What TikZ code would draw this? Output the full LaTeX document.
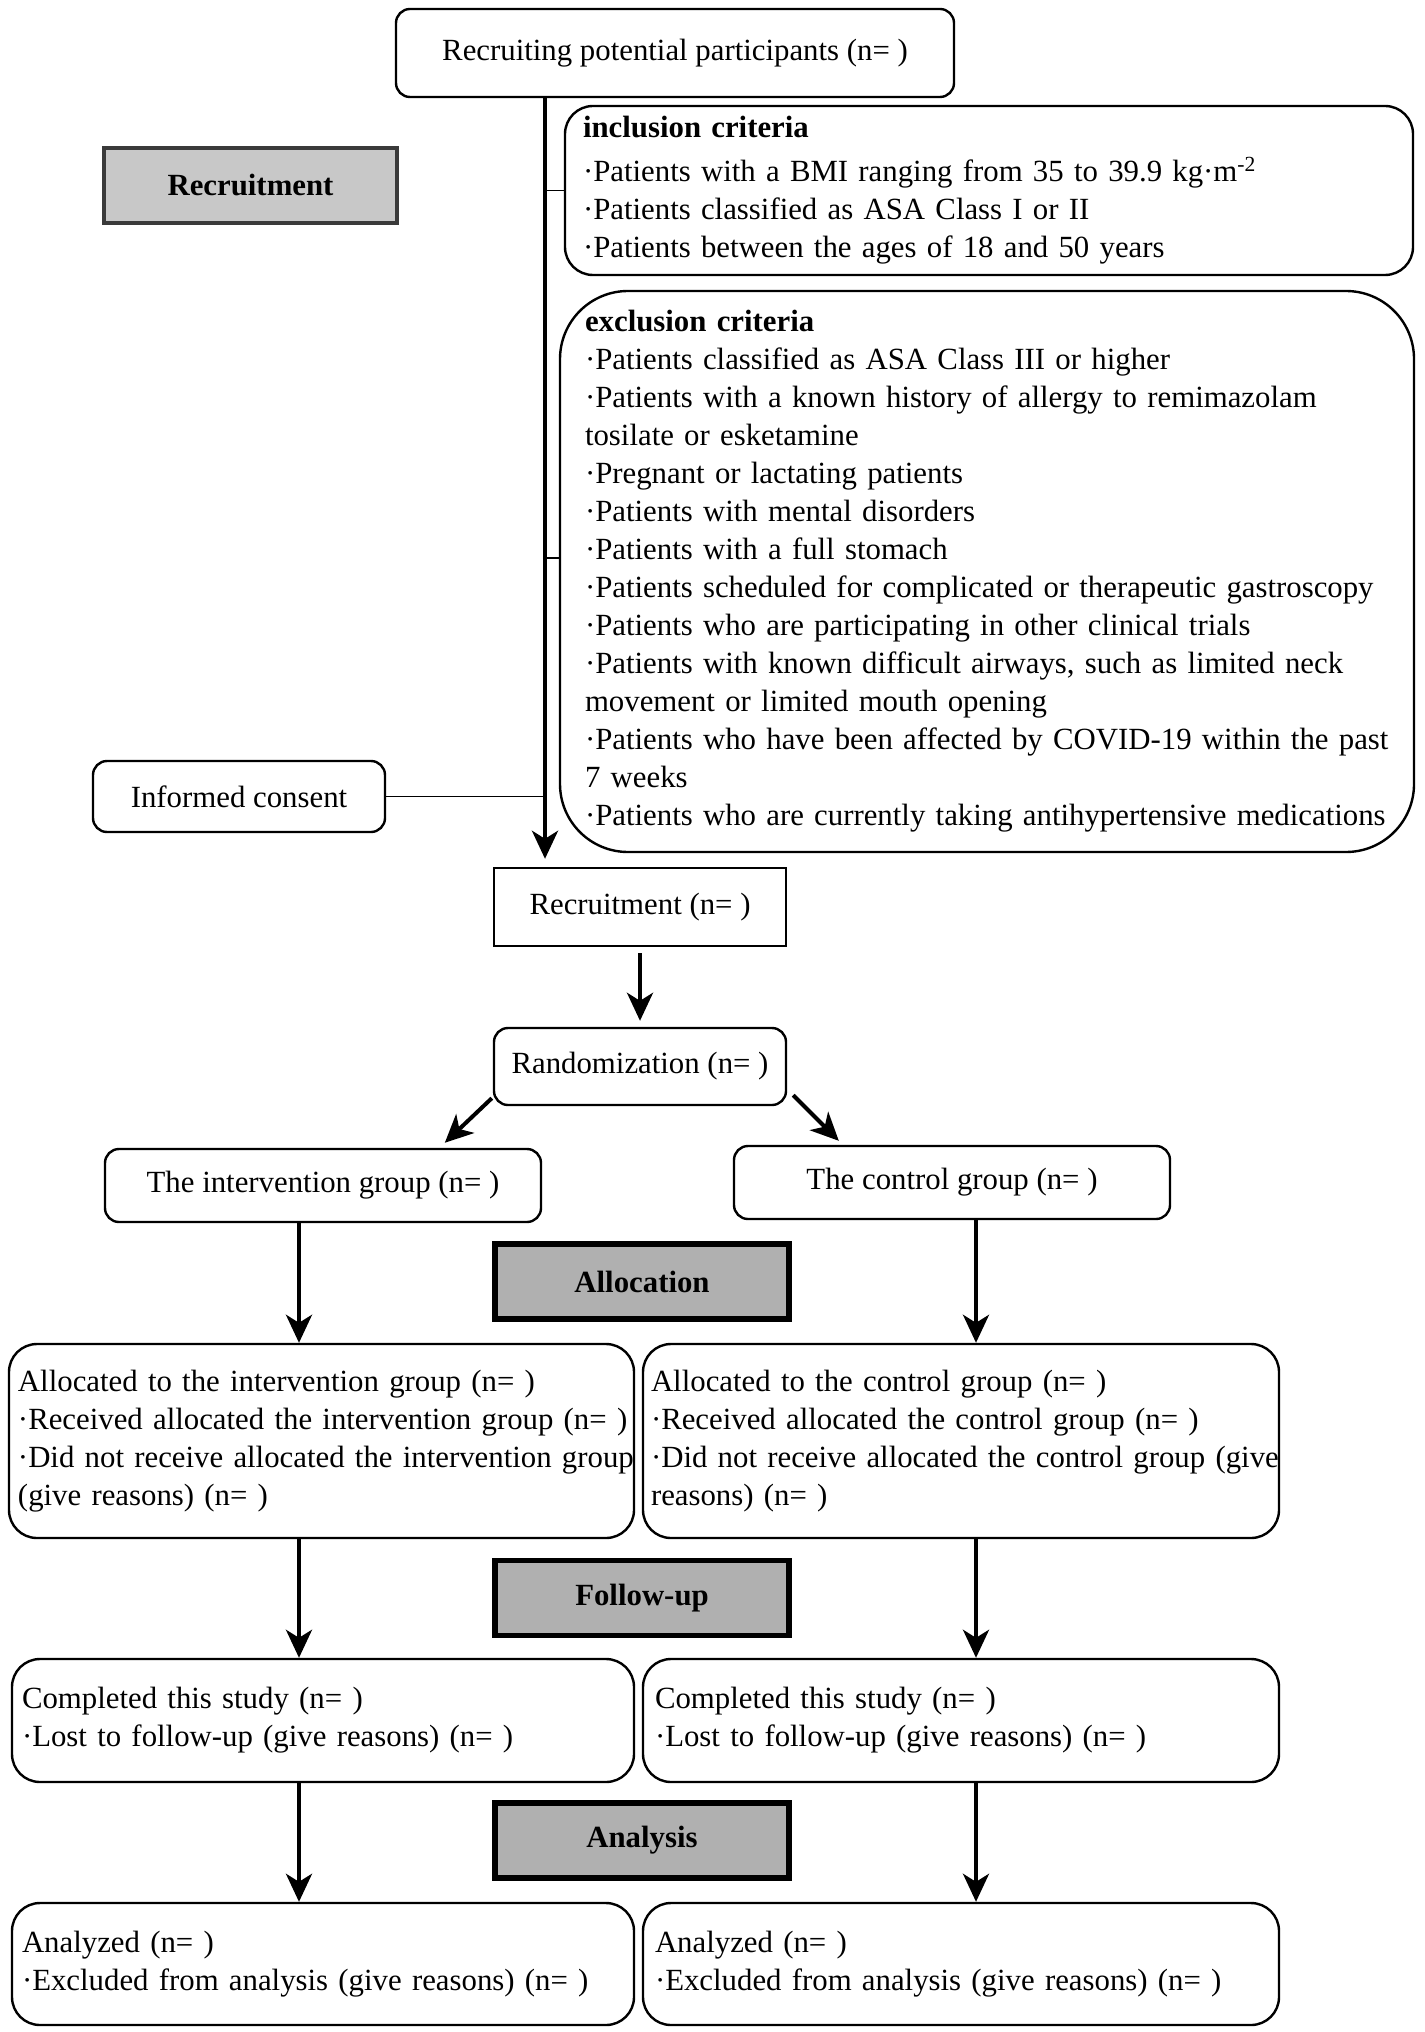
\documentclass[tikz,border=0pt]{standalone}
\usepackage{fontspec}
\setmainfont{Liberation Serif}
\usetikzlibrary{arrows.meta,calc}
\definecolor{labA}{HTML}{C8C8C8}
\definecolor{labB}{HTML}{B0B0B0}
\definecolor{labAline}{HTML}{3A3A3A}
\newcommand\lne[1]{\mbox{#1}}
\begin{document}
\begin{tikzpicture}[x=0.5pt,y=-0.5pt,
  every node/.style={font=\fontsize{15.4pt}{19pt}\selectfont},
  box/.style={draw,line width=1.2pt,rounded corners=7pt,inner ysep=0pt},
  bigbox/.style={box,rounded corners=14pt,align=left},
  lab/.style={draw=black,line width=2.6pt,fill=labB,minimum width=147pt,minimum height=37.5pt,inner sep=0pt,font=\fontsize{15.4pt}{19pt}\selectfont\bfseries},
  arr/.style={-{Stealth[length=14pt,width=13pt,inset=4pt]},line width=2pt},
  thin/.style={line width=0.8pt}
]
\useasboundingbox (0,0) rectangle (1424,2032);
\fill[white] (0,0) rectangle (1424,2032);

% top
\node[box,minimum width=279pt,minimum height=44pt,inner xsep=0pt] (top) at (675,53) {Recruiting potential participants (n= )};

% inclusion
\node[box,rounded corners=14pt,align=left,text width=406pt,inner xsep=9pt,minimum height=84.5pt] (incl) at (989,190.5)
{\lne{\textbf{inclusion criteria}}\\[3pt]
\lne{·Patients with a BMI ranging from 35 to 39.9 kg·m\textsuperscript{-2}}\\
\lne{·Patients classified as ASA Class I or II}\\
\lne{·Patients between the ages of 18 and 50 years}};

% exclusion
\node[box,rounded corners=34pt,align=left,text width=402pt,inner xsep=12.5pt,minimum height=280.5pt] (excl) at (987,571.5)
{\lne{\textbf{exclusion criteria}}\\
\lne{·Patients classified as ASA Class III or higher}\\
\lne{·Patients with a known history of allergy to remimazolam}\\
\lne{tosilate or esketamine}\\
\lne{·Pregnant or lactating patients}\\
\lne{·Patients with mental disorders}\\
\lne{·Patients with a full stomach}\\
\lne{·Patients scheduled for complicated or therapeutic gastroscopy}\\
\lne{·Patients who are participating in other clinical trials}\\
\lne{·Patients with known difficult airways, such as limited neck}\\
\lne{movement or limited mouth opening}\\
\lne{·Patients who have been affected by COVID-19 within the past}\\
\lne{7 weeks}\\
\lne{·Patients who are currently taking antihypertensive medications}};

% recruitment label
\node[lab,fill=labA,draw=labAline,line width=2pt,minimum width=146.5pt] (reclab) at (250.5,185.5) {Recruitment};

% informed consent
\node[box,minimum width=146pt,minimum height=35.5pt] (consent) at (239,796.5) {Informed consent};

% recruitment n
\node[draw,line width=1.2pt,minimum width=146pt,minimum height=39pt,inner sep=0pt] (recn) at (640,907) {Recruitment (n= )};

% randomization
\node[box,minimum width=146pt,minimum height=38.5pt,inner xsep=0pt] (rand) at (640,1066.5) {Randomization (n= )};

% groups
\node[box,minimum width=218pt,minimum height=36.5pt] (int) at (323,1185.5) {The intervention group (n= )};
\node[box,minimum width=218pt,minimum height=36.5pt] (ctrl) at (952,1182.5) {The control group (n= )};

% labels
\node[lab] (alloclab) at (642,1281.5) {Allocation};
\node[lab] (followlab) at (642,1598) {Follow-up};
\node[lab] (analab) at (642,1840.5) {Analysis};

% allocation boxes
\node[bigbox,text width=303.5pt,inner xsep=4.5pt,minimum height=97pt] (allocL) at (321.5,1441)
{\lne{Allocated to the intervention group (n= )}\\
\lne{·Received allocated the intervention group (n= )}\\
\lne{·Did not receive allocated the intervention group}\\
\lne{(give reasons) (n= )}};
\node[bigbox,text width=310pt,inner xsep=4pt,minimum height=97pt] (allocR) at (961,1441)
{\lne{Allocated to the control group (n= )}\\
\lne{·Received allocated the control group (n= )}\\
\lne{·Did not receive allocated the control group (give}\\
\lne{reasons) (n= )}};

% completed
\node[bigbox,text width=301pt,inner xsep=5pt,minimum height=61.5pt] (compL) at (323,1720.5)
{\lne{Completed this study (n= )}\\
\lne{·Lost to follow-up (give reasons) (n= )}};
\node[bigbox,text width=306pt,inner xsep=6pt,minimum height=61.5pt] (compR) at (961,1720.5)
{\lne{Completed this study (n= )}\\
\lne{·Lost to follow-up (give reasons) (n= )}};

% analyzed
\node[bigbox,text width=301pt,inner xsep=5pt,minimum height=61pt] (anaL) at (323,1964)
{\lne{Analyzed (n= )}\\
\lne{·Excluded from analysis (give reasons) (n= )}};
\node[bigbox,text width=306pt,inner xsep=6pt,minimum height=61pt] (anaR) at (961,1964)
{\lne{Analyzed (n= )}\\
\lne{·Excluded from analysis (give reasons) (n= )}};

% connectors
\coordinate (vx) at (545,0);
\coordinate (lx) at (299,0);
\coordinate (rx) at (976,0);
\coordinate (exb) at (545,558);
\draw[arr] (top.south -| vx) -- ([yshift=4pt]recn.north -| vx);
\draw[thin] (vx |- incl.west) -- (incl.west);
\draw[thin] (exb) -- (exb -| excl.west);
\draw[thin] (consent.east) -- (consent.east -| vx);
\draw[arr] ([yshift=-3pt]recn.south) -- ([yshift=3pt]rand.north);
\draw[arr] ($(rand.south west)+(-1,-8)$) -- ($(int.north west)+(341,-5)$);
\draw[arr] ($(rand.south east)+(6,-11)$) -- ($(ctrl.north west)+(106,-4)$);
\draw[arr] (int.south -| lx) -- (allocL.north -| lx);
\draw[arr] (ctrl.south -| rx) -- (allocR.north -| rx);
\draw[arr] (allocL.south -| lx) -- (compL.north -| lx);
\draw[arr] (allocR.south -| rx) -- (compR.north -| rx);
\draw[arr] (compL.south -| lx) -- (anaL.north -| lx);
\draw[arr] (compR.south -| rx) -- (anaR.north -| rx);
\end{tikzpicture}
\end{document}
